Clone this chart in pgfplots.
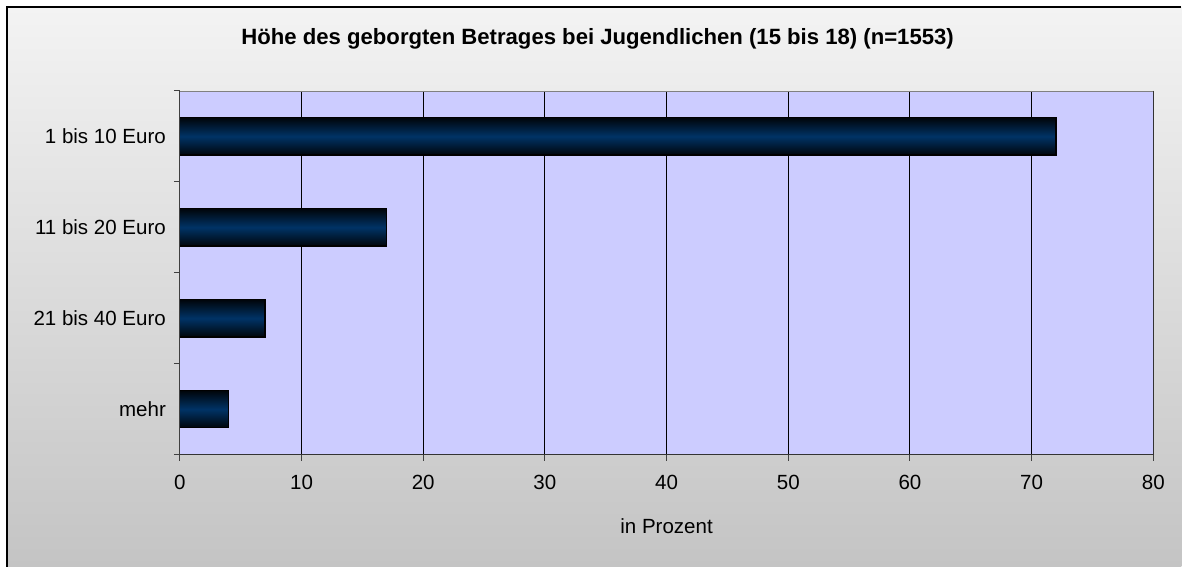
\documentclass[border=0pt]{standalone}
\usepackage{fontspec}
\setmainfont{Liberation Sans}
\usepackage{pgfplots}
\pgfplotsset{compat=1.18}
\definecolor{plotbg}{RGB}{204,204,255}
\definecolor{barmid}{RGB}{0,51,102}
\definecolor{bgtop}{RGB}{243,243,243}
\definecolor{bgbot}{RGB}{196,196,196}
\begin{document}
\begin{tikzpicture}[x=0.75pt,y=0.75pt]
\fill[white] (0,0) rectangle (1182,567);
\shade[top color=bgtop, bottom color=bgbot] (7,0) rectangle (1182,560);
\draw[black, line width=1.1pt] (7,0) -- (7,560) -- (1182,560);
\node[font=\bfseries\fontsize{16.6}{19}\selectfont, anchor=base] at (598,522) {Höhe des geborgten Betrages bei Jugendlichen (15 bis 18) (n=1553)};
\begin{axis}[
  at={(135pt,84pt)}, anchor=south west,
  scale only axis, width=730.5pt, height=273pt,
  xmin=0, xmax=80, xtick={0,10,...,80},
  ymin=-0.5, ymax=3.5, y dir=reverse,
  ytick={-0.5,0.5,1.5,2.5,3.5}, yticklabels={},
  extra y ticks={0,1,2,3},
  extra y tick labels={1 bis 10 Euro, 11 bis 20 Euro, 21 bis 40 Euro, mehr},
  extra y tick style={major tick length=0pt, yticklabel style={xshift=-7pt}},
  xtick pos=bottom, ytick pos=left,
  tick align=outside, major tick length=4.5pt,
  tick style={black!75, line width=0.75pt},
  axis background/.style={fill=plotbg},
  xmajorgrids, major grid style={black, line width=0.75pt},
  axis line style={draw=none},
  tick label style={font=\fontsize{15.4}{18}\selectfont},
  /pgf/number format/assume math mode=true,
  xticklabel style={yshift=-7pt},
  xlabel={in Prozent},
  xlabel style={font=\fontsize{15.4}{18}\selectfont, yshift=-15pt},
  clip=false,
  barstyle/.style={xbar, bar width=0.41, draw=black, line width=0.9pt,
    top color=black!90!barmid, bottom color=black!90!barmid, middle color=barmid},
]
\addplot[barstyle] coordinates {(72,0)};
\addplot[barstyle] coordinates {(17,1)};
\addplot[barstyle] coordinates {(7,2)};
\addplot[barstyle] coordinates {(4,3)};
\draw[black!75, line width=0.75pt] (rel axis cs:0,0) -- (rel axis cs:0,1);
\draw[black!50, line width=0.5pt] (rel axis cs:0,1) -- (rel axis cs:1,1);
\draw[black!80, line width=0.75pt] (rel axis cs:1,1) -- (rel axis cs:1,0);
\draw[black!80, line width=0.75pt] (rel axis cs:0,0) -- (rel axis cs:1,0);
\end{axis}
\end{tikzpicture}
\end{document}
